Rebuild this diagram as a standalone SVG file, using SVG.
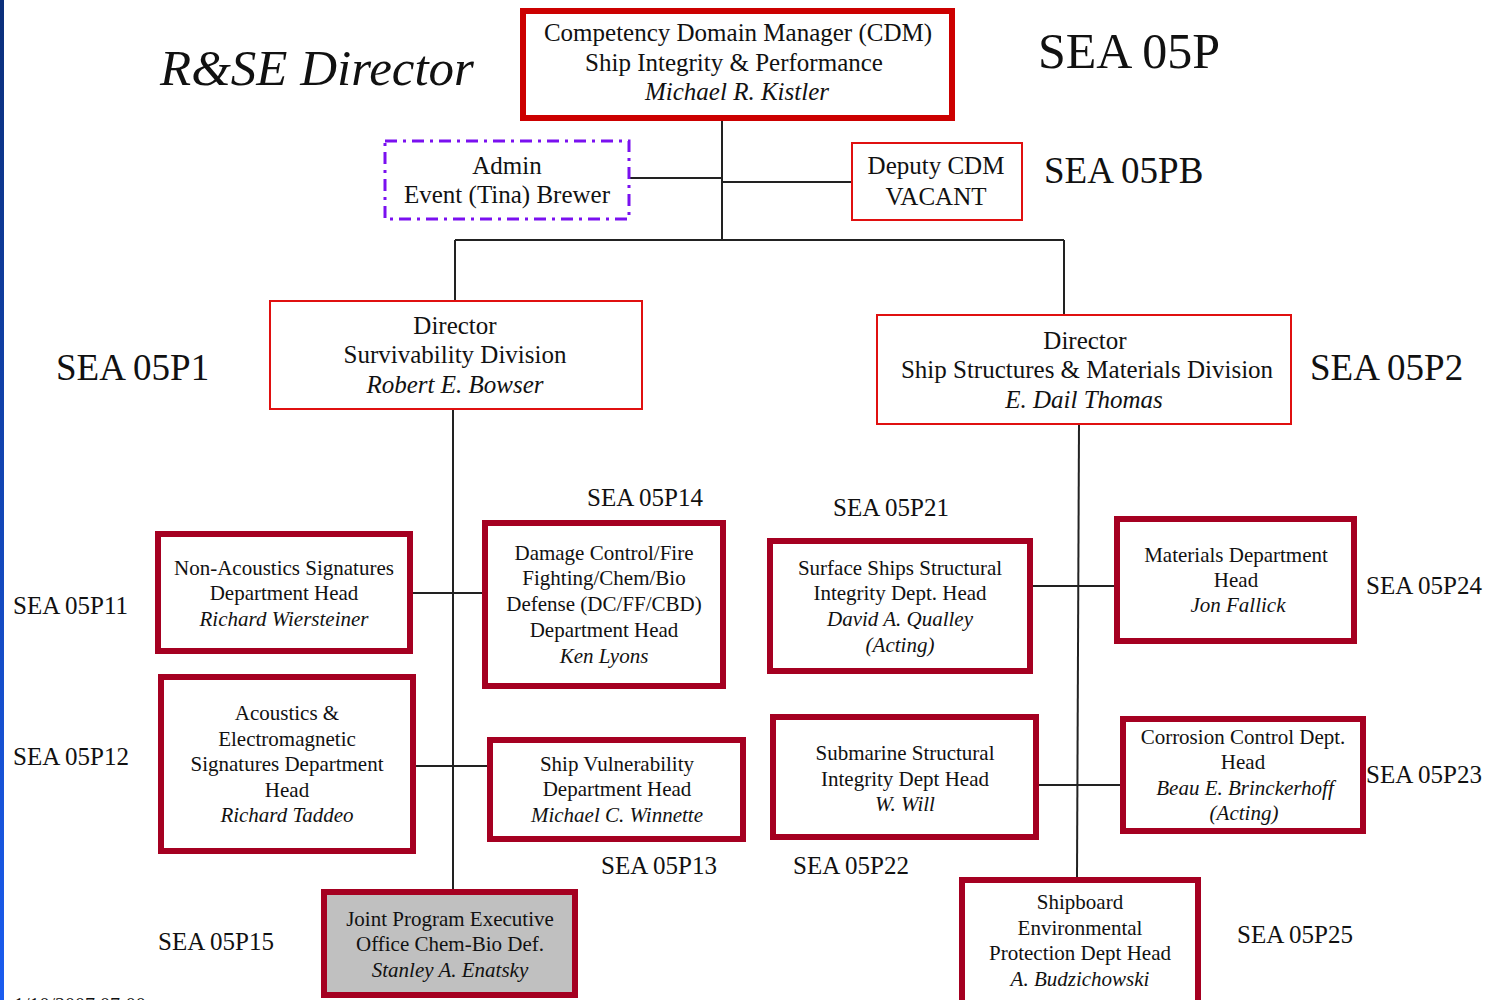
<svg xmlns="http://www.w3.org/2000/svg" width="1503" height="1000" viewBox="0 0 1503 1000">
<defs>
<linearGradient id="bar" x1="0" y1="0" x2="0" y2="1">
<stop offset="0" stop-color="#0b2f7a"/>
<stop offset="1" stop-color="#1a5cf0"/>
</linearGradient>
<style>
text{font-family:"Liberation Serif","Times New Roman",serif;fill:#111;text-anchor:middle}
.t25{font-size:25px}
.t22{font-size:21px}
.i{font-style:italic}
.lbl{font-size:25px;text-anchor:start}
.big{font-size:37px;text-anchor:start}
.thick{fill:#fff;stroke:#a50021;stroke-width:6}
.thin{fill:#fff;stroke:#e01010;stroke-width:2}
.line{stroke:#222;stroke-width:2;fill:none}
</style>
</defs>
<rect x="0" y="0" width="1503" height="1000" fill="#fff"/>
<rect x="0" y="0" width="4" height="1000" fill="url(#bar)"/>

<text x="160" y="85" style="font-size:51px;font-style:italic;text-anchor:start">R&amp;SE Director</text>
<text x="1038" y="68" style="font-size:50px;text-anchor:start">SEA 05P</text>
<text x="1044" y="183" class="big">SEA 05PB</text>
<text x="56" y="380" class="big">SEA 05P1</text>
<text x="1310" y="380" class="big">SEA 05P2</text>
<text x="587" y="506" class="lbl">SEA 05P14</text>
<text x="13" y="614" class="lbl">SEA 05P11</text>
<text x="13" y="765" class="lbl">SEA 05P12</text>
<text x="601" y="874" class="lbl">SEA 05P13</text>
<text x="158" y="950" class="lbl">SEA 05P15</text>
<text x="833" y="516" class="lbl">SEA 05P21</text>
<text x="1366" y="594" class="lbl">SEA 05P24</text>
<text x="1366" y="783" class="lbl">SEA 05P23</text>
<text x="793" y="874" class="lbl">SEA 05P22</text>
<text x="1237" y="943" class="lbl">SEA 05P25</text>
<text x="14" y="1012" style="font-size:20px;text-anchor:start">1/10/2007 07:00</text>

<g id="connectors">
<path class="line" d="M722 121 V240"/>
<path class="line" d="M629 178 H722"/>
<path class="line" d="M722 182 H851"/>
<path class="line" d="M455 240 H1064"/>
<path class="line" d="M455 240 V300"/>
<path class="line" d="M1064 240 V315"/>
<path class="line" d="M453 409 V889"/>
<path class="line" d="M1079 424 L1077 877"/>
<path class="line" d="M413 593 H482"/>
<path class="line" d="M416 766 H487"/>
<path class="line" d="M1033 586 H1114"/>
<path class="line" d="M1039 785 H1120"/>
</g>

<g id="cdm">
<rect x="523" y="11" width="429" height="107" fill="#fff" stroke="#cc0000" stroke-width="6"/>
<text x="738" y="41" class="t25">Competency Domain Manager (CDM)</text>
<text x="734" y="71" class="t25">Ship Integrity &amp; Performance</text>
<text x="737" y="100" class="t25 i">Michael R. Kistler</text>
</g>

<g id="admin">
<rect x="385" y="141" width="244" height="78" fill="#fff" stroke="#7a10f0" stroke-width="3" stroke-dasharray="12 6 3 6"/>
<text x="507" y="174" class="t25">Admin</text>
<text x="507" y="203" class="t25">Event (Tina) Brewer</text>
</g>

<g id="deputy">
<rect x="852" y="143" width="170" height="77" class="thin"/>
<text x="936" y="174" class="t25">Deputy CDM</text>
<text x="936" y="205" class="t25">VACANT</text>
</g>

<g id="survivability">
<rect x="270" y="301" width="372" height="108" class="thin"/>
<text x="455" y="334" class="t25">Director</text>
<text x="455" y="363" class="t25">Survivability Division</text>
<text x="455" y="393" class="t25 i">Robert E. Bowser</text>
</g>

<g id="structures">
<rect x="877" y="315" width="414" height="109" class="thin"/>
<text x="1085" y="349" class="t25">Director</text>
<text x="1087" y="378" class="t25">Ship Structures &amp; Materials Division</text>
<text x="1084" y="408" class="t25 i">E. Dail Thomas</text>
</g>

<g id="nonacoustics">
<rect x="158" y="534" width="252" height="117" class="thick"/>
<text x="284" y="575" class="t22">Non-Acoustics Signatures</text>
<text x="284" y="600" class="t22">Department Head</text>
<text x="284" y="626" class="t22 i">Richard Wiersteiner</text>
</g>

<g id="acoustics">
<rect x="161" y="677" width="252" height="174" class="thick"/>
<text x="287" y="720" class="t22">Acoustics &amp;</text>
<text x="287" y="746" class="t22">Electromagnetic</text>
<text x="287" y="771" class="t22">Signatures Department</text>
<text x="287" y="797" class="t22">Head</text>
<text x="287" y="822" class="t22 i">Richard Taddeo</text>
</g>

<g id="damagecontrol">
<rect x="485" y="523" width="238" height="163" class="thick"/>
<text x="604" y="560" class="t22">Damage Control/Fire</text>
<text x="604" y="585" class="t22">Fighting/Chem/Bio</text>
<text x="604" y="611" class="t22">Defense (DC/FF/CBD)</text>
<text x="604" y="637" class="t22">Department Head</text>
<text x="604" y="663" class="t22 i">Ken Lyons</text>
</g>

<g id="vulnerability">
<rect x="490" y="740" width="253" height="99" class="thick"/>
<text x="617" y="771" class="t22">Ship Vulnerability</text>
<text x="617" y="796" class="t22">Department Head</text>
<text x="617" y="822" class="t22 i">Michael C. Winnette</text>
</g>

<g id="jpeo">
<rect x="324" y="892" width="251" height="103" fill="#c0c0c0" stroke="#a50021" stroke-width="6"/>
<text x="450" y="926" class="t22">Joint Program Executive</text>
<text x="450" y="951" class="t22">Office Chem-Bio Def.</text>
<text x="450" y="977" class="t22 i">Stanley A. Enatsky</text>
</g>

<g id="surfaceships">
<rect x="770" y="541" width="260" height="130" class="thick"/>
<text x="900" y="575" class="t22">Surface Ships Structural</text>
<text x="900" y="600" class="t22">Integrity Dept. Head</text>
<text x="900" y="626" class="t22 i">David A. Qualley</text>
<text x="900" y="652" class="t22 i">(Acting)</text>
</g>

<g id="materials">
<rect x="1117" y="519" width="237" height="122" class="thick"/>
<text x="1236" y="562" class="t22">Materials Department</text>
<text x="1236" y="587" class="t22">Head</text>
<text x="1238" y="612" class="t22 i">Jon Fallick</text>
</g>

<g id="submarine">
<rect x="773" y="717" width="263" height="120" class="thick"/>
<text x="905" y="760" class="t22">Submarine Structural</text>
<text x="905" y="786" class="t22">Integrity Dept Head</text>
<text x="905" y="811" class="t22 i">W. Will</text>
</g>

<g id="corrosion">
<rect x="1123" y="719" width="240" height="112" class="thick"/>
<text x="1243" y="744" class="t22">Corrosion Control Dept.</text>
<text x="1243" y="769" class="t22">Head</text>
<text x="1245" y="795" class="t22 i">Beau E. Brinckerhoff</text>
<text x="1244" y="820" class="t22 i">(Acting)</text>
</g>

<g id="shipboard">
<rect x="962" y="880" width="236" height="125" class="thick"/>
<text x="1080" y="909" class="t22">Shipboard</text>
<text x="1080" y="935" class="t22">Environmental</text>
<text x="1080" y="960" class="t22">Protection Dept Head</text>
<text x="1080" y="986" class="t22 i">A. Budzichowski</text>
</g>
</svg>
